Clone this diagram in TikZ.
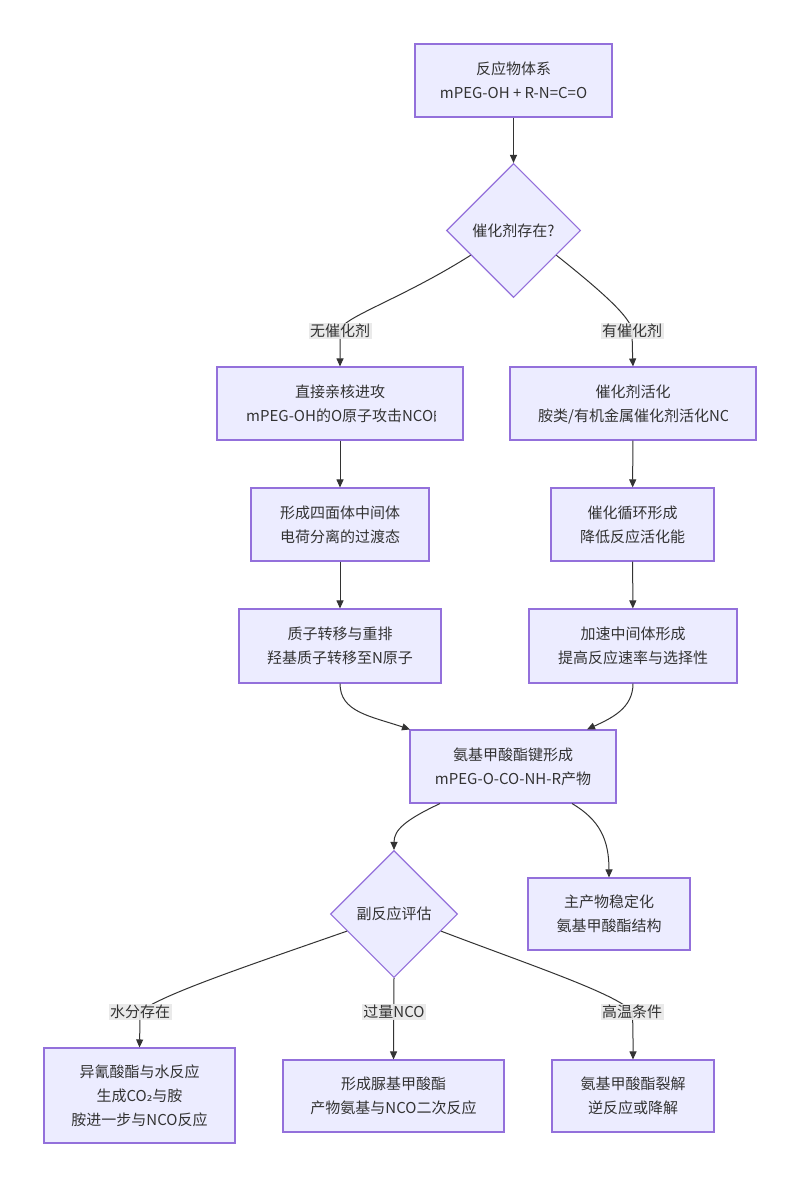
\documentclass[tikz,border=0pt]{standalone}
\usepackage{fontspec}
\setmainfont{Noto Sans CJK SC}
\newfontfamily\dejavu{DejaVu Sans}
\usetikzlibrary{shapes.geometric,arrows.meta}
\definecolor{boxfill}{HTML}{ECECFF}
\definecolor{boxline}{HTML}{9370DB}
\definecolor{edgec}{HTML}{333333}
\definecolor{lblbg}{HTML}{E8E8E8}
\begin{document}
\begin{tikzpicture}[x=1pt,y=-1pt,
  box/.style={draw=boxline,fill=boxfill,line width=1.1pt,rectangle,inner sep=0pt,align=center,text=edgec,font=\fontsize{15}{24}\selectfont},
  dia/.style={draw=boxline,fill=boxfill,line width=1.1pt,diamond,aspect=1,inner sep=0pt,minimum width=#1,minimum height=#1,align=center,text=edgec,font=\fontsize{15}{24}\selectfont},
  txt/.style={inner sep=0pt,text=edgec,font=\fontsize{15}{24}\selectfont},
  lbl/.style={fill=lblbg,fill opacity=0.9,text opacity=1,inner sep=1.5pt,text=edgec,font=\fontsize{15}{18}\selectfont},
  edge/.style={draw=edgec,line width=1pt,-{Triangle[length=8pt,width=7pt]}},
  line/.style={draw=edgec,line width=1pt}]
\useasboundingbox (0,0) rectangle (800,1188);
\fill[white] (0,0) rectangle (800,1188);

% nodes
\node[box,minimum width=197,minimum height=73] (n1) at (513.5,80.5) {反应物体系\\mPEG-OH + R-N=C=O};
\node[dia=134] (d1) at (513.5,230.5) {催化剂存在?};
\node[box,minimum width=246,minimum height=73] (n4) at (340,403.5) {};
\begin{scope}
\clip (246,367) rectangle (435,440);
\node[txt] at (340,392) {直接亲核进攻};
\node[txt,anchor=west] at (246,416) {mPEG-OH的O原子攻击NCO的碳};
\end{scope}
\node[box,minimum width=246,minimum height=73] (n5) at (633,403.5) {};
\begin{scope}
\clip (538,367) rectangle (727,440);
\node[txt] at (633,392) {催化剂活化};
\node[txt,anchor=west] at (538,416) {胺类/有机金属催化剂活化NCO};
\end{scope}
\node[box,minimum width=178,minimum height=73] (n6) at (340,524.5) {形成四面体中间体\\电荷分离的过渡态};
\node[box,minimum width=163,minimum height=73] (n7) at (632.5,524.5) {催化循环形成\\降低反应活化能};
\node[box,minimum width=202,minimum height=74] (n8) at (340,646) {质子转移与重排\\羟基质子转移至N原子};
\node[box,minimum width=208,minimum height=74] (n9) at (633,646) {加速中间体形成\\提高反应速率与选择性};
\node[box,minimum width=206,minimum height=73] (n10) at (513,766.5) {氨基甲酸酯键形成\\mPEG-O-CO-NH-R产物};
\node[dia=127] (d2) at (394,914) {副反应评估};
\node[box,minimum width=162,minimum height=72] (n12) at (609,914) {主产物稳定化\\氨基甲酸酯结构};
\node[box,minimum width=191,minimum height=95] (n14) at (139.5,1095.5) {异氰酸酯与水反应\\生成CO{\dejavu\fontsize{14}{24}\selectfont ₂}与胺\\胺进一步与NCO反应};
\node[box,minimum width=221,minimum height=72] (n15) at (393.5,1096) {形成脲基甲酸酯\\产物氨基与NCO二次反应};
\node[box,minimum width=162,minimum height=72] (n16) at (633,1096) {氨基甲酸酯裂解\\逆反应或降解};

% edges
\draw[edge] (n1) -- (d1);
\coordinate (l1) at (340,331);
\coordinate (l2) at (632,331);
\draw[edge] (d1.210) .. controls (400,300) and (340,318) .. (l1) .. controls (340,345) .. (n4.north);
\draw[edge] (d1.330) .. controls (600,290) and (632,318) .. (l2) .. controls (632,345) .. (n5.north);
\node[lbl] (t1) at (l1) {无催化剂};
\node[lbl] (t2) at (l2) {有催化剂};
\draw[edge] (n4) -- (n6);
\draw[edge] (n5) -- (n7);
\draw[edge] (n6) -- (n8);
\draw[edge] (n7) -- (n9);
\draw[edge] (n8.south) .. controls (340,712) and (370,716) .. ([xshift=-103pt]n10.north);
\draw[edge] (n9.south) .. controls (633,708) and (612,718) .. ([xshift=74pt]n10.north);
\draw[edge] ([xshift=-73pt]n10.south) .. controls (405,820) and (394,830) .. (d2.north);
\draw[edge] ([xshift=59pt]n10.south) .. controls (600,820) and (609,840) .. (n12.north);
\coordinate (l3) at (140,1012);
\coordinate (l4) at (394,1012);
\coordinate (l5) at (632,1012);
\draw[edge] (d2.200) .. controls (250,965) and (160,995) .. (l3) .. controls (140,1025) .. (n14.north);
\draw[edge] (d2.south) -- (n15.north);
\draw[edge] (d2.340) .. controls (530,965) and (620,995) .. (l5) .. controls (633,1025) .. (n16.north);
\node[lbl] (t3) at (l3) {水分存在};
\node[lbl] (t4) at (l4) {过量NCO};
\node[lbl] (t5) at (l5) {高温条件};
\end{tikzpicture}
\end{document}
